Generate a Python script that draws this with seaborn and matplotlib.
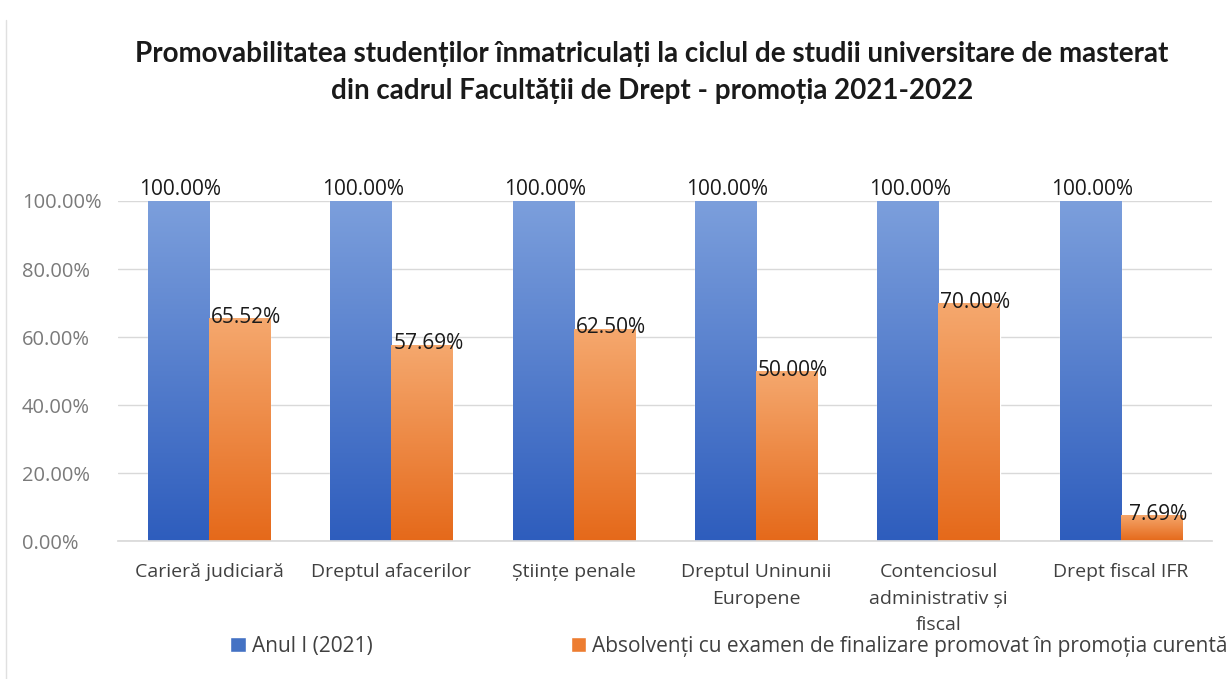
import numpy as np
import pandas as pd
import matplotlib
matplotlib.use("Agg")
import matplotlib.pyplot as plt
import matplotlib.colors as mcolors
from matplotlib.patches import Patch
import seaborn as sns

programe = ["Carieră judiciară", "Dreptul afacerilor", "Științe penale",
            "Dreptul Uninunii\nEuropene", "Contenciosul\nadministrativ și\nfiscal",
            "Drept fiscal IFR"]
anul_1 = [100.00, 100.00, 100.00, 100.00, 100.00, 100.00]
absolventi = [65.52, 57.69, 62.50, 50.00, 70.00, 7.69]
serii = ["Anul I (2021)", "Absolvenți cu examen de finalizare promovat în promoția curentă"]

titlu = ("Promovabilitatea studenților înmatriculați la ciclul de studii universitare de masterat\n"
         "din cadrul Facultății de Drept - promoția 2021-2022")

df = pd.DataFrame({
    "Program": programe * 2,
    "Procent": anul_1 + absolventi,
    "Serie": [serii[0]] * len(programe) + [serii[1]] * len(programe),
})

sns.set_theme(style="white")
plt.rcParams["font.family"] = ["Open Sans", "DejaVu Sans"]

blue, orange = "#4472C4", "#ED7D31"
grad = {
    blue: ("#2E5DBD", "#7C9FDC"),
    orange: ("#E5691A", "#F5A86E"),
}

fig = plt.figure(figsize=(12.28, 6.79), dpi=100)
ax = fig.add_axes([0.096, 0.203, 0.891, 0.501])

sns.barplot(data=df, x="Program", y="Procent", hue="Serie", palette=[blue, orange],
            width=0.67, gap=0, legend=False, ax=ax, saturation=1)

ax.set_xlim(-0.5, 5.5)
ax.set_ylim(0, 100)

# gradient fill, Excel-style
for bar in list(ax.patches):
    x0, y0 = bar.get_x(), bar.get_y()
    w, h = bar.get_width(), bar.get_height()
    base = mcolors.to_hex(bar.get_facecolor(), keep_alpha=False).upper()
    key = blue if base == blue.upper() else orange
    cmap = mcolors.LinearSegmentedColormap.from_list("g", list(grad[key]))
    img = ax.imshow(np.linspace(0, 1, 256).reshape(-1, 1), cmap=cmap, origin="lower",
                    extent=[x0, x0 + w, y0, y0 + h], aspect="auto", zorder=bar.get_zorder())
    img.set_clip_path(bar)

ax.set_xlim(-0.5, 5.5)
ax.set_ylim(0, 100)

# data labels
for i in range(len(programe)):
    ax.text(i - 0.1675 + 0.01, anul_1[i] + 0.3, f"{anul_1[i]:.2f}%", ha="center", va="bottom",
            fontsize=15, color="#1a1a1a", zorder=5)
    ax.text(i + 0.1675 + 0.035, absolventi[i] - 2.8, f"{absolventi[i]:.2f}%", ha="center",
            va="bottom", fontsize=15, color="#1a1a1a", zorder=5)

ax.set_yticks(np.arange(0, 101, 20))
ax.set_yticklabels([f"{v:.2f}%" for v in np.arange(0, 101, 20)], fontsize=14.5, color="#7a7a7a",
                   ha="left")
ax.tick_params(axis="y", pad=69, length=0)
ax.tick_params(axis="x", length=0, pad=16, labelsize=14, labelcolor="#404040")
for lab in ax.get_xticklabels():
    lab.set_linespacing(1.6)
ax.set_xlabel("")
ax.set_ylabel("")
ax.yaxis.grid(True, color="#D9D9D9", linewidth=1)
ax.set_axisbelow(True)
for s in ["top", "right", "left"]:
    ax.spines[s].set_visible(False)
ax.spines["bottom"].set_color("#D9D9D9")

fig.text(0.531, 0.893, titlu, ha="center", va="center", fontsize=20,
         fontweight="bold", color="#1a1a1a", linespacing=1.5, family=["Lato", "DejaVu Sans"])

handles = [Patch(facecolor=blue, label=serii[0]), Patch(facecolor=orange, label=serii[1])]
fig.legend(handles=handles, loc="center left", bbox_to_anchor=(0.172, 0.048), ncol=2,
           frameon=False, fontsize=15, handlelength=0.75, handleheight=0.75,
           handletextpad=0.3, columnspacing=9.5, labelcolor="#404040")

# light frame on the left
fig.add_artist(plt.Line2D([0.005, 0.005], [0.0, 0.97], color="#E0E0E0", linewidth=1))

fig.savefig("out.png", dpi=100, facecolor="white")
